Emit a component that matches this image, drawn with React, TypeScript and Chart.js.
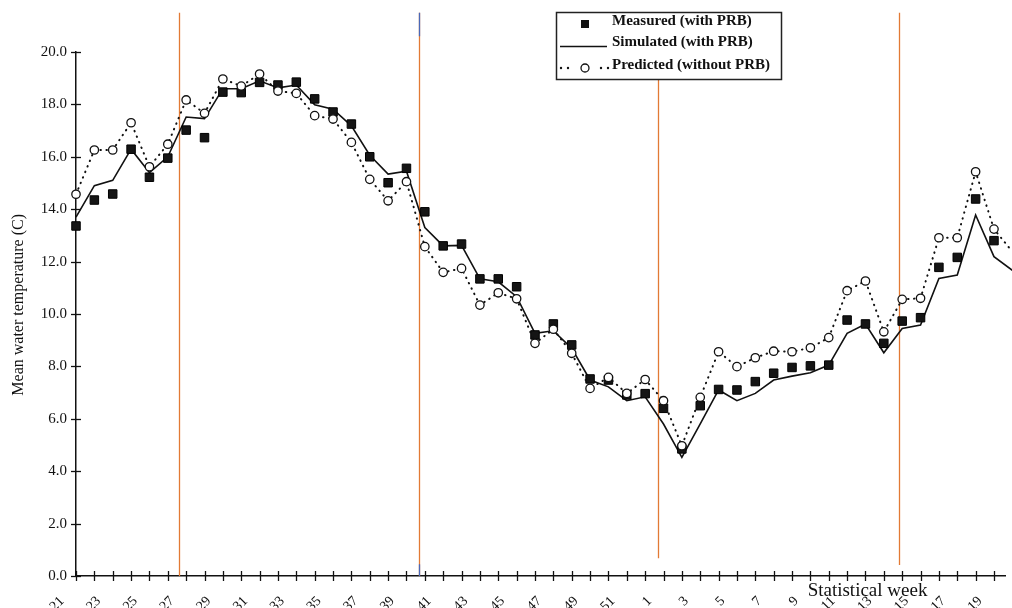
import React, { useEffect, useRef } from 'react';
import { Chart, registerables } from 'chart.js';

Chart.register(...registerables);

// Statistical weeks (x categories)
const weeks = [21, 22, 23, 24, 25, 26, 27, 28, 29, 30, 31, 32, 33, 34, 35, 36, 37, 38, 39, 40, 41, 42, 43, 44, 45, 46, 47, 48, 49, 50, 51, 52,
  1, 2, 3, 4, 5, 6, 7, 8, 9, 10, 11, 12, 13, 14, 15, 16, 17, 18, 19, 20];

// Mean water temperature (C)
const measured = [13.36, 14.35, 14.58, 16.29, 15.22, 15.95, 17.02, 16.73, 18.47, 18.45, 18.84, 18.74, 18.85, 18.21, 17.71, 17.25, 16.0, 15.01, 15.56, 13.9,
  12.6, 12.67, 11.34, 11.34, 11.04, 9.2, 9.62, 8.82, 7.52, 7.48, 6.91, 6.96,
  6.4, 4.85, 6.5, 7.12, 7.1, 7.42, 7.74, 7.96, 8.02, 8.05, 9.77, 9.62, 8.88, 9.73, 9.86, 11.78, 12.16, 14.39, 12.8, null];

const simulated = [13.7, 14.9, 15.1, 16.29, 15.4, 16.0, 17.52, 17.46, 18.6, 18.6, 18.9, 18.63, 18.74, 17.99, 17.82, 17.18, 16.06, 15.34, 15.45, 13.3,
  12.6, 12.62, 11.34, 11.23, 10.66, 9.26, 9.36, 8.69, 7.48, 7.22, 6.69, 6.84,
  5.8, 4.53, 5.81, 7.1, 6.69, 6.97, 7.48, 7.63, 7.76, 8.05, 9.26, 9.62, 8.52, 9.45, 9.58, 11.36, 11.49, 13.78, 12.19, 11.67];

const predicted = [14.57, 16.26, 16.26, 17.3, 15.62, 16.48, 18.17, 17.66, 18.97, 18.7, 19.16, 18.51, 18.42, 17.57, 17.44, 16.55, 15.14, 14.32, 15.05, 12.57,
  11.59, 11.74, 10.34, 10.81, 10.58, 8.88, 9.42, 8.5, 7.16, 7.58, 6.97, 7.5,
  6.69, 4.97, 6.82, 8.56, 7.99, 8.33, 8.58, 8.56, 8.71, 9.1, 10.89, 11.26, 9.32, 10.56, 10.6, 12.91, 12.91, 15.43, 13.24, 12.38];

const seriesLabels = ['Measured (with PRB)', 'Simulated (with PRB)', 'Predicted (without PRB)'];
const yTitle = 'Mean water temperature (C)';
const xTitle = 'Statistical week';

// Vertical guide lines (positions in week-index units, extents in °C units)
const guideWeekPos = [5.6, 18.69, 31.68, 44.81];
const guideTop = [21.5, 21.5, 18.95, 21.5];
const guideBottom = [0, 0, 0.68, 0.42];

const SERIF = "'Liberation Serif', 'Times New Roman', serif";

const toPoints = (arr: (number | null)[]) => arr.map((v, i) => ({ x: i, y: v }));

const decor = {
  id: 'decor',
  beforeDatasetsDraw(chart: any) {
    const { ctx, scales } = chart;
    const x = scales.x, y = scales.y;
    ctx.save();
    ctx.lineWidth = 1.3;
    guideWeekPos.forEach((w, i) => {
      const px = Math.round(x.getPixelForValue(w)) + 0.5;
      ctx.strokeStyle = '#E27A35';
      ctx.beginPath();
      ctx.moveTo(px, y.getPixelForValue(guideTop[i]));
      ctx.lineTo(px, y.getPixelForValue(guideBottom[i]));
      ctx.stroke();
      if (i === 1) {
        ctx.strokeStyle = '#4A68B8';
        ctx.beginPath();
        ctx.moveTo(px, y.getPixelForValue(guideTop[i]));
        ctx.lineTo(px, y.getPixelForValue(20.6));
        ctx.moveTo(px, y.getPixelForValue(0.45));
        ctx.lineTo(px, y.getPixelForValue(0));
        ctx.stroke();
      }
    });
    ctx.restore();
  },
  afterDraw(chart: any) {
    const { ctx, scales, chartArea } = chart;
    const x = scales.x, y = scales.y;
    ctx.save();
    // crossing tick marks
    ctx.strokeStyle = '#111';
    ctx.lineWidth = 1.3;
    y.ticks.forEach((t: any) => {
      const py = Math.round(y.getPixelForValue(t.value)) + 0.5;
      ctx.beginPath();
      ctx.moveTo(chartArea.left - 5, py);
      ctx.lineTo(chartArea.left + 5, py);
      ctx.stroke();
    });
    x.ticks.forEach((t: any) => {
      const px = Math.round(x.getPixelForValue(t.value)) + 0.5;
      ctx.beginPath();
      ctx.moveTo(px, chartArea.bottom - 5);
      ctx.lineTo(px, chartArea.bottom + 5);
      ctx.stroke();
    });

    // y axis title
    ctx.fillStyle = '#111';
    ctx.save();
    ctx.translate(19, y.getPixelForValue(10.35));
    ctx.rotate(-Math.PI / 2);
    ctx.font = `16px ${SERIF}`;
    ctx.textAlign = 'center';
    ctx.textBaseline = 'middle';
    ctx.fillText(yTitle, 0, 0);
    ctx.restore();

    // x axis title
    ctx.font = `19px ${SERIF}`;
    ctx.textAlign = 'left';
    ctx.textBaseline = 'alphabetic';
    ctx.fillText(xTitle, x.getPixelForValue(39.85), chartArea.bottom + 20);

    // legend
    const lx = chartArea.left + 480;
    const ly = 12;
    const lw = 225;
    const lh = 67;
    ctx.lineWidth = 1.5;
    ctx.strokeStyle = '#222';
    ctx.strokeRect(lx + 0.5, ly + 0.5, lw, lh);
    const mx = lx + 29;
    const tx = lx + 56;
    ctx.font = `bold 15px ${SERIF}`;
    ctx.textBaseline = 'middle';
    // row 1 - square
    ctx.fillStyle = '#111';
    ctx.fillRect(mx - 4, ly + 8, 8, 8);
    ctx.fillText(seriesLabels[0], tx, ly + 9);
    // row 2 - solid line
    ctx.strokeStyle = '#111';
    ctx.lineWidth = 1.4;
    ctx.beginPath();
    ctx.moveTo(lx + 4, ly + 34.5);
    ctx.lineTo(lx + 51, ly + 34.5);
    ctx.stroke();
    ctx.fillText(seriesLabels[1], tx, ly + 30);
    // row 3 - dotted with circle
    const ry = ly + 56;
    ctx.fillStyle = '#111';
    [lx + 5, lx + 12, lx + 45, lx + 52].forEach((dx) => {
      ctx.beginPath();
      ctx.arc(dx, ry, 1.2, 0, Math.PI * 2);
      ctx.fill();
    });
    ctx.beginPath();
    ctx.arc(mx, ry, 4, 0, Math.PI * 2);
    ctx.fillStyle = '#fff';
    ctx.fill();
    ctx.lineWidth = 1.3;
    ctx.stroke();
    ctx.fillStyle = '#111';
    ctx.fillText(seriesLabels[2], tx, ly + 53);
    ctx.restore();
  },
};

export default function App() {
  const canvasRef = useRef<HTMLCanvasElement | null>(null);

  useEffect(() => {
    if (!canvasRef.current) return;
    const chart = new Chart(canvasRef.current, {
      type: 'line',
      data: {
        datasets: [
          {
            label: seriesLabels[2],
            data: toPoints(predicted),
            order: 0,
            borderColor: '#111',
            borderWidth: 2,
            borderDash: [0.5, 5.5],
            borderCapStyle: 'round',
            pointStyle: 'circle',
            pointRadius: 4.2,
            pointBorderWidth: 1.3,
            pointBackgroundColor: '#fff',
            pointBorderColor: '#111',
            tension: 0,
            clip: false,
          },
          {
            label: seriesLabels[0],
            data: toPoints(measured),
            order: 1,
            showLine: false,
            pointStyle: 'rect',
            pointRadius: 6,
            pointBorderWidth: 1,
            pointBackgroundColor: '#151515',
            pointBorderColor: '#000',
            clip: false,
          },
          {
            label: seriesLabels[1],
            data: toPoints(simulated),
            order: 2,
            borderColor: '#111',
            borderWidth: 1.6,
            pointRadius: 0,
            tension: 0,
            clip: false,
          },
        ],
      },
      options: {
        animation: false,
        responsive: false,
        devicePixelRatio: 1,
        layout: { padding: { top: 52, left: 0, right: 0, bottom: 0 } },
        plugins: {
          legend: { display: false },
          tooltip: { enabled: false },
        },
        scales: {
          x: {
            type: 'linear',
            min: 0,
            max: 50.6,
            offset: false,
            grid: { display: false, drawTicks: true, tickLength: 5 },
            border: { display: true, color: '#111', width: 1.5 },
            ticks: {
              stepSize: 1,
              autoSkip: false,
              includeBounds: false,
              maxRotation: 45,
              minRotation: 45,
              padding: 12,
              labelOffset: -14,
              color: '#111',
              font: { family: SERIF, size: 14 },
              callback: (v: any) => {
                const i = Math.round(Number(v));
                if (Math.abs(Number(v) - i) > 1e-6) return '';
                return i % 2 === 0 && weeks[i] !== undefined ? String(weeks[i]) : '';
              },
            },
            afterFit: (scale: any) => {
              scale.height = 32;
              scale.paddingLeft = 0;
              scale.paddingRight = 0;
            },
          },
          y: {
            min: 0,
            max: 20,
            grid: { display: false, drawTicks: true, tickLength: 5 },
            border: { display: true, color: '#111', width: 1.5 },
            ticks: {
              stepSize: 2,
              padding: 4,
              color: '#111',
              font: { family: SERIF, size: 15 },
              callback: (v: any) => Number(v).toFixed(1),
            },
            title: { display: false },
            afterFit: (scale: any) => {
              scale.width = 76;
            },
          },
        },
      },
      plugins: [decor],
    } as any);
    return () => chart.destroy();
  }, []);

  return (
    <div style={{ position: 'fixed', left: 0, top: 0, width: 1012, height: 608, overflow: 'hidden', background: '#fff' }}>
      <canvas ref={canvasRef} width={1012} height={608} style={{ width: 1012, height: 608, display: 'block' }} />
    </div>
  );
}
